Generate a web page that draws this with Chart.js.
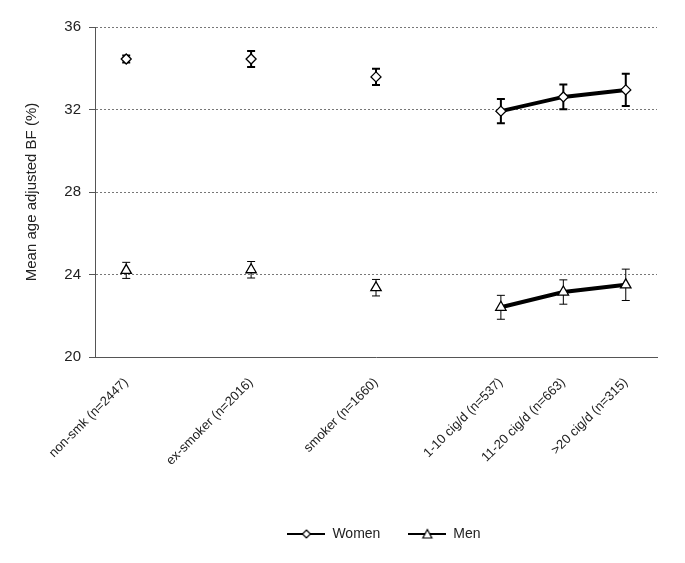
<!DOCTYPE html>
<html>
<head>
<meta charset="utf-8">
<script src="https://cdn.jsdelivr.net/npm/chart.js"></script>
<style>
  html, body { margin: 0; padding: 0; background: #fff; }
  #wrap { width: 685px; height: 563px; }
</style>
</head>
<body>
<div id="wrap"><canvas id="chart" width="685" height="563"></canvas></div>
<script>
// --- Data ---
const categories = ['non-smk (n=2447)', '', 'ex-smoker (n=2016)', '', 'smoker (n=1660)', '',
                    '1-10 cig/d (n=537)', '11-20 cig/d (n=663)', '>20 cig/d (n=315)'];
const womenMean = [34.45, null, 34.45, null, 33.58, null, 31.92, 32.61, 32.95];
const womenErr  = [0.17, null, 0.39, null, 0.39, null, 0.59, 0.60, 0.78];
const menMean   = [24.2, null, 24.23, null, 23.36, null, 22.41, 23.15, 23.5];
const menErr    = [0.39, null, 0.4, null, 0.4, null, 0.58, 0.59, 0.76];
const yTicks    = [20, 24, 28, 32, 36];

const FONT = "'Liberation Sans', Arial, sans-serif";
const TEXT = '#222';

// legend symbols: short line with the marker in the middle
function legendIcon(kind) {
    const c = document.createElement('canvas');
    c.width = 38; c.height = 12;
    const g = c.getContext('2d');
    g.strokeStyle = '#000';
    g.lineWidth = 2;
    g.beginPath(); g.moveTo(0, 6); g.lineTo(38, 6); g.stroke();
    g.fillStyle = '#fff';
    g.lineWidth = 1.2;
    g.beginPath();
    if (kind === 'diamond') {
        g.moveTo(19, 2); g.lineTo(23, 6); g.lineTo(19, 10); g.lineTo(15, 6);
    } else {
        g.moveTo(19, 1.5); g.lineTo(23.5, 10); g.lineTo(14.5, 10);
    }
    g.closePath(); g.fill(); g.stroke();
    return c;
}
const icons = { Women: legendIcon('diamond'), Men: legendIcon('triangle') };

// --- Error bars, drawn through the chart's own scales ---
const errorBars = {
    id: 'errorBars',
    beforeDatasetsDraw(chart) {
        const ctx = chart.ctx;
        const x = chart.scales.x, y = chart.scales.y;
        const sets = [
            { mean: womenMean, err: womenErr, width: 2 },
            { mean: menMean, err: menErr, width: 1 }
        ];
        ctx.save();
        ctx.strokeStyle = '#000';
        sets.forEach(s => {
            ctx.lineWidth = s.width;
            s.mean.forEach((m, i) => {
                if (m === null) return;
                const px = x.getPixelForValue(i);
                const top = y.getPixelForValue(m + s.err[i]);
                const bot = y.getPixelForValue(m - s.err[i]);
                ctx.beginPath();
                ctx.moveTo(px, top); ctx.lineTo(px, bot);
                ctx.moveTo(px - 4, top); ctx.lineTo(px + 4, top);
                ctx.moveTo(px - 4, bot); ctx.lineTo(px + 4, bot);
                ctx.stroke();
            });
        });
        ctx.restore();
    }
};

// nudge the legend a little to the right, like the original
const legendShift = {
    id: 'legendShift',
    afterLayout(chart) {
        if (chart.legend) {
            chart.legend.left += 8;
            chart.legend.right += 8;
        }
    }
};

new Chart(document.getElementById('chart'), {
    type: 'line',
    data: {
        labels: categories,
        datasets: [{
            label: 'Women',
            data: womenMean,
            borderColor: '#000',
            borderWidth: 4,
            pointStyle: 'rectRot',
            pointRadius: 5,
            pointBackgroundColor: '#fff',
            pointBorderColor: '#000',
            pointBorderWidth: 1.3,
            spanGaps: false
        }, {
            label: 'Men',
            data: menMean,
            borderColor: '#000',
            borderWidth: 4,
            pointStyle: 'triangle',
            pointRadius: 6,
            pointBackgroundColor: '#fff',
            pointBorderColor: '#000',
            pointBorderWidth: 1.3,
            spanGaps: false
        }]
    },
    options: {
        responsive: false,
        animation: false,
        layout: { padding: { left: 23, right: 28, top: 27, bottom: 12 } },
        scales: {
            x: {
                offset: true,
                grid: { display: false, drawTicks: false },
                border: { display: true, color: '#555', width: 1 },
                ticks: {
                    autoSkip: false,
                    minRotation: 45,
                    maxRotation: 45,
                    padding: 18,
                    color: TEXT,
                    font: { family: FONT, size: 13 }
                },
                afterFit(scale) { scale.height = 142; }
            },
            y: {
                min: 20,
                max: 36,
                afterBuildTicks(scale) { scale.ticks = yTicks.map(v => ({ value: v })); },
                grid: {
                    color: ctx => ctx.tick && ctx.tick.value === 20 ? 'rgba(0,0,0,0)' : '#777',
                    lineWidth: 1,
                    tickLength: 6,
                    tickColor: '#555',
                    tickBorderDash: []
                },
                border: { display: true, color: '#555', width: 1, dash: [2, 2] },
                ticks: {
                    padding: 8,
                    color: TEXT,
                    font: { family: FONT, size: 15 }
                },
                title: {
                    display: true,
                    text: 'Mean age adjusted BF (%)',
                    color: TEXT,
                    font: { family: FONT, size: 15 },
                    padding: { top: 0, bottom: 10 }
                },
                afterFit(scale) { scale.width = 72; }
            }
        },
        plugins: {
            legend: {
                position: 'bottom',
                fullSize: false,
                labels: {
                    usePointStyle: true,
                    pointStyleWidth: 38,
                    padding: 28,
                    color: TEXT,
                    font: { family: FONT, size: 14 },
                    generateLabels(chart) {
                        return chart.data.datasets.map((ds, i) => ({
                            text: ds.label,
                            pointStyle: icons[ds.label],
                            fillStyle: '#fff',
                            strokeStyle: '#000',
                            lineWidth: 0,
                            hidden: false,
                            datasetIndex: i,
                            fontColor: TEXT
                        }));
                    }
                }
            },
            tooltip: { enabled: false }
        }
    },
    plugins: [errorBars, legendShift]
});
</script>
</body>
</html>
